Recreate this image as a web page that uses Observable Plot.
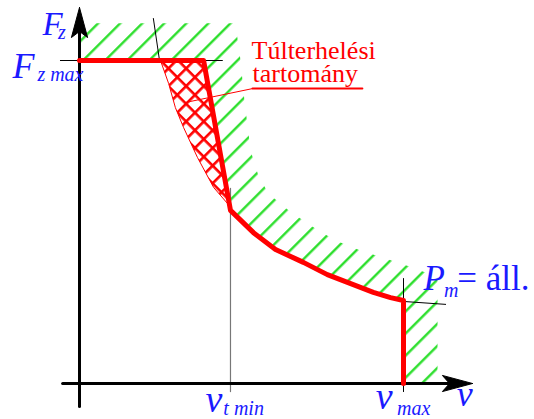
<!DOCTYPE html>
<html><head><meta charset="utf-8">
<script src="https://cdn.jsdelivr.net/npm/d3@7"></script>
<script src="https://cdn.jsdelivr.net/npm/@observablehq/plot@0.6"></script>
<style>body{margin:0;background:#fff}</style>
</head><body><div id="chart"></div>
<script>
// Traction characteristic F_z(v) (relative units: v_max = 10, F_z max = 10)
const vLimit = [0, 3.83, 4.66, 5.37, 6.05, 6.91, 7.65, 8.27, 9.07, 9.60, 10, 10];
const FLimit = [10, 10, 5.36, 4.67, 4.15, 3.75, 3.37, 3.13, 2.82, 2.66, 2.57, 0];
// Constant-power hyperbola continuation (P_m = áll.)
const vHyper = [2.50, 2.75, 2.96, 3.21, 3.64, 4.14, 4.57, 4.66];
const FHyper = [10, 9.29, 8.54, 7.93, 7.00, 6.07, 5.57, 5.36];
// Outer edge of the hatched (forbidden) band
const vOuter = [0, 4.81, 4.97, 5.09, 5.28, 5.52, 5.83, 6.45, 7.13, 7.90, 8.67, 9.44, 10.37, 11.05, 11.05];
const FOuter = [11.15, 11.15, 10, 8.76, 7.21, 6.44, 5.88, 5.36, 4.89, 4.43, 4.12, 3.87, 3.56, 3.28, 0];
// Key values
const vtMin = 4.66, vMax = 10, FzMax = 10;
const overloadLabel = ["Túlterhelési", "tartomány"];

const zip = (vs, Fs) => vs.map((v, i) => ({v, F: Fs[i]}));
const limit = zip(vLimit, FLimit);
const hyper = zip(vHyper, FHyper);
const outer = zip(vOuter, FOuter);
const greenPoly = outer.concat(limit.slice().reverse());
const crossPoly = hyper.concat([{v: 3.83, F: FzMax}]);

const blue = "#1a1aff", red = "#ff0000", green = "#22dd22";
const serif = '"Liberation Serif", "Times New Roman", serif';

const defs = () => {
  const d = d3.create("svg:defs");
  const g = d.append("pattern").attr("id", "greenHatch").attr("patternUnits", "userSpaceOnUse")
    .attr("width", 10).attr("height", 15.6).attr("patternTransform", "rotate(-45)");
  g.append("rect").attr("x", 0).attr("y", 6).attr("width", 10).attr("height", 2.3).attr("fill", green);
  const s = 12.5;
  const c = d.append("pattern").attr("id", "redCross").attr("patternUnits", "userSpaceOnUse")
    .attr("width", s).attr("height", s).attr("patternTransform", "rotate(45) translate(3,3)");
  c.append("rect").attr("x", 0).attr("y", 0).attr("width", s).attr("height", 2.6).attr("fill", red);
  c.append("rect").attr("x", 0).attr("y", 0).attr("width", 2.6).attr("height", s).attr("fill", red);
  return d.node();
};

const txt = (t, v, F, o) => Plot.text([t], {x: () => v, y: () => F, text: d => d, textAnchor: "start", lineAnchor: "bottom", fontFamily: serif, ...o});

const chart = Plot.plot({
  width: 534, height: 419, margin: 0,
  x: {domain: [0, 10], range: [79, 403], axis: null},
  y: {domain: [0, 10], range: [383, 60], axis: null},
  style: {background: "white", overflow: "visible", fontFamily: serif},
  marks: [
    defs,
    Plot.line(greenPoly, {x: "v", y: "F", fill: "url(#greenHatch)", stroke: "none"}),
    Plot.line(crossPoly, {x: "v", y: "F", fill: "url(#redCross)", stroke: "none"}),
    Plot.line(hyper, {x: "v", y: "F", stroke: red, strokeWidth: 1}),
    // thin guide lines
    Plot.line([{v: -0.59, F: FzMax}, {v: 4.41, F: FzMax}], {x: "v", y: "F", stroke: "black", strokeWidth: 1}),
    Plot.line([{v: 2.28, F: 11.30}, {v: 2.47, F: FzMax}], {x: "v", y: "F", stroke: "black", strokeWidth: 1}),
    Plot.line([{v: vtMin, F: 6.04}, {v: vtMin, F: -0.25}], {x: "v", y: "F", stroke: "#777", strokeWidth: 1.2}),
    Plot.line([{v: vMax, F: 3.25}, {v: vMax, F: -0.25}], {x: "v", y: "F", stroke: "black", strokeWidth: 1}),
    Plot.line([{v: vMax, F: 2.54}, {v: 11.30, F: 2.45}], {x: "v", y: "F", stroke: "black", strokeWidth: 1}),
    // leader line + underline
    Plot.line([{v: 3.27, F: 8.70}, {v: 5.34, F: 9.13}], {x: "v", y: "F", stroke: red, strokeWidth: 1}),
    Plot.line([{v: 5.34, F: 9.13}, {v: 8.73, F: 9.13}], {x: "v", y: "F", stroke: red, strokeWidth: 2}),
    // axes
    Plot.line([{v: 0, F: -0.71}, {v: 0, F: 11.0}], {x: "v", y: "F", stroke: "black", strokeWidth: 3}),
    Plot.line([{v: -0.52, F: 0}, {v: 11.5, F: 0}], {x: "v", y: "F", stroke: "black", strokeWidth: 3}),
    Plot.line([{v: 0, F: 11.64}, {v: 0.25, F: 10.71}, {v: 0, F: 10.90}, {v: -0.25, F: 10.71}, {v: 0, F: 11.64}], {x: "v", y: "F", fill: "black", stroke: "black", strokeWidth: 1}),
    Plot.line([{v: 12.13, F: 0}, {v: 11.20, F: 0.25}, {v: 11.42, F: 0}, {v: 11.20, F: -0.25}, {v: 12.13, F: 0}], {x: "v", y: "F", fill: "black", stroke: "black", strokeWidth: 1}),
    // characteristic
    Plot.line(limit, {x: "v", y: "F", stroke: red, strokeWidth: 5, strokeLinejoin: "round", strokeLinecap: "round"}),
    // labels
    txt("F", -1.14, 10.80, {fill: blue, fontSize: 33, fontStyle: "italic"}),
    txt("z", -0.66, 10.68, {fill: blue, fontSize: 20, fontStyle: "italic"}),
    txt("F", -2.07, 9.47, {fill: blue, fontSize: 36, fontStyle: "italic"}),
    txt("z max", -1.30, 9.38, {fill: blue, fontSize: 20, fontStyle: "italic"}),
    txt("v", 3.89, -0.87, {fill: blue, fontSize: 38, fontStyle: "italic"}),
    txt("t min", 4.44, -0.99, {fill: blue, fontSize: 20, fontStyle: "italic"}),
    txt("v", 9.14, -0.80, {fill: blue, fontSize: 38, fontStyle: "italic"}),
    txt("max", 9.80, -0.99, {fill: blue, fontSize: 20, fontStyle: "italic"}),
    txt("v", 11.64, -0.71, {fill: blue, fontSize: 36, fontStyle: "italic"}),
    txt("P", 10.62, 2.88, {fill: blue, fontSize: 35, fontStyle: "italic"}),
    txt("m", 11.25, 2.69, {fill: blue, fontSize: 20, fontStyle: "italic"}),
    txt("= áll.", 11.66, 2.88, {fill: blue, fontSize: 35}),
    txt(overloadLabel[0], 5.31, 10.06, {fill: red, fontSize: 26}),
    txt(overloadLabel[1], 5.34, 9.32, {fill: red, fontSize: 26})
  ]
});
document.getElementById("chart").appendChild(chart);
</script>
</body></html>
